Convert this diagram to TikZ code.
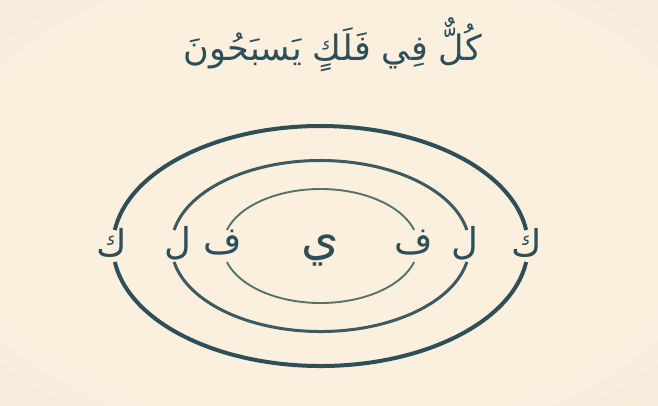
\documentclass[tikz,border=0pt]{standalone}
\usepackage{fontspec}
\TeXXeTstate=1
\newfontfamily\arabicfont[Script=Arabic]{DejaVu Sans}
\definecolor{bgin}{RGB}{251,239,222}
\definecolor{bgout}{RGB}{220,222,201}
\definecolor{inkdark}{RGB}{46,78,88}
\definecolor{inkmid}{RGB}{60,90,96}
\definecolor{inklight}{RGB}{84,114,108}
\pgfdeclareradialshading{vignette}{\pgfpoint{0bp}{0bp}}{color(0bp)=(bgin); color(28bp)=(bgin); color(71bp)=(bgout)}
\tikzset{
  orbitletter/.style={text=inkdark, inner sep=0pt, font=\arabicfont\fontsize{37}{40}\selectfont},
  centreletter/.style={text=inkdark, inner sep=0pt, font=\arabicfont\fontsize{48}{52}\selectfont},
  titletext/.style={text=inkdark, inner sep=0pt, font=\arabicfont\fontsize{35}{40}\selectfont},
  outerorbit/.style={draw=inkdark, line width=4pt},
  midorbit/.style={draw=inkmid, line width=3pt},
  innerorbit/.style={draw=inklight, line width=1.9pt}
}
\begin{document}
\begin{tikzpicture}[x=1pt,y=-1pt]
\useasboundingbox (0,0) rectangle (658,405);
\shade[shading=vignette] (0,0) rectangle (658,405);
\coordinate (c) at (320.5,246);
% title
\node[titletext] (title) at (333,45) {\beginR كُلٌّ فِي فَلَكٍ يَسبَحُونَ\endR};
% orbits (gaps where the letters sit)
\foreach \rx/\ry/\st in {207.5/120/outerorbit, 149/85.5/midorbit, 97.5/57/innerorbit}{
  \pgfmathsetmacro{\g}{asin(16/\ry)}
  \draw[\st] ([shift={(\g:{\rx} and {\ry})}]c) arc[start angle=\g, end angle=180-\g, x radius=\rx, y radius=\ry];
  \draw[\st] ([shift={(180+\g:{\rx} and {\ry})}]c) arc[start angle=180+\g, end angle=360-\g, x radius=\rx, y radius=\ry];
}
% letters
\node[orbitletter] (kl) at (112,243) {\arabicfont ك};
\node[orbitletter] (ll) at (178,243) {\arabicfont ل};
\node[orbitletter] (fl) at (223,243) {\arabicfont ف};
\node[centreletter] (ya) at (320,250) {\arabicfont ي};
\node[orbitletter] (fr) at (414,243) {\arabicfont ف};
\node[orbitletter] (lr) at (465,243) {\arabicfont ل};
\node[orbitletter] (kr) at (527,243) {\arabicfont ك};
\end{tikzpicture}
\end{document}
